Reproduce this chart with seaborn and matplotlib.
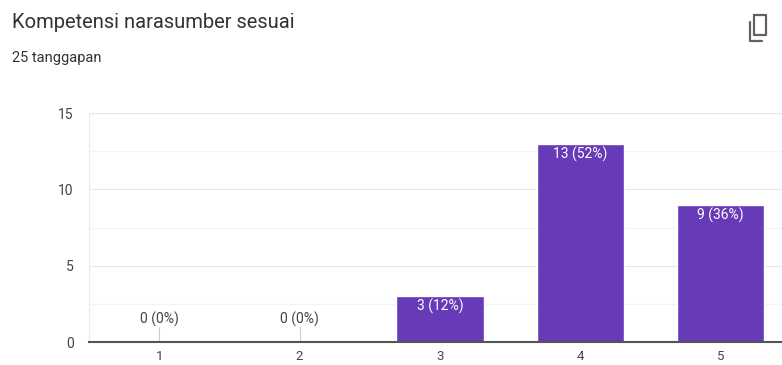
import matplotlib
matplotlib.use("Agg")
import matplotlib.pyplot as plt
import seaborn as sns
import pandas as pd
from matplotlib.lines import Line2D

# data
categories = ["1", "2", "3", "4", "5"]
counts = [0, 0, 3, 13, 9]
percents = [0, 0, 12, 52, 36]
title = "Kompetensi narasumber sesuai"
subtitle = "25 tanggapan"

df = pd.DataFrame({"skor": categories, "jumlah": counts})

sns.set_style("white")
plt.rcParams["font.family"] = ["Roboto", "DejaVu Sans"]

W, H = 782, 365
fig = plt.figure(figsize=(W / 100, H / 100), dpi=100)
ax = fig.add_axes([89 / W, 23 / H, (791 - 89) / W, (342 - 113) / H])

sns.barplot(data=df, x="skor", y="jumlah", order=categories, color="#673ab7",
            saturation=1, width=0.62, ax=ax, zorder=3)

ax.set_ylim(0, 15)
ax.set_xlim(-0.5, 4.5)
ax.set_yticks([0, 5, 10, 15])
ax.set_yticks([2.5, 7.5, 12.5], minor=True)
ax.grid(axis="y", which="major", color="#e6e6e6", linewidth=0.8, zorder=0)
ax.grid(axis="y", which="minor", color="#f3f3f3", linewidth=0.8, zorder=0)
ax.set_axisbelow(True)

for s in ["top", "right"]:
    ax.spines[s].set_visible(False)
ax.spines["left"].set_color("#ececec")
ax.spines["left"].set_linewidth(0.8)
ax.spines["bottom"].set_color("#555555")
ax.spines["bottom"].set_linewidth(1.5)
ax.spines["bottom"].set_zorder(5)

ax.tick_params(axis="y", which="both", length=0, pad=11, labelsize=10, labelcolor="#444444")
ax.tick_params(axis="x", length=0, pad=6, labelsize=9.5, labelcolor="#444444")
ax.set_xlabel("")
ax.set_ylabel("")

# value labels
for i, (c, p) in enumerate(zip(counts, percents)):
    txt = f"{c} ({p}%)"
    if c == 0:
        ax.vlines(i, 0, 1.0, color="#cccccc", linewidth=0.8, zorder=2)
        ax.annotate(txt, (i, 0), xytext=(0, 11), textcoords="offset points",
                    ha="center", va="bottom", fontsize=10, color="#444444")
    else:
        ax.annotate(txt, (i, c), xytext=(0, -2), textcoords="offset points",
                    ha="center", va="top", fontsize=10, color="white")

fig.text(12 / W, 1 - 22 / H, title, fontsize=14.5, color="#333333", va="center", ha="left")
fig.text(12 / W, 1 - 58 / H, subtitle, fontsize=10.5, color="#333333", va="center", ha="left")

# copy icon
def px(x, y):
    return x / W, 1 - y / H

icon = "#5f6368"
rect = [(754, 15), (766, 15), (766, 35), (754, 35), (754, 15)]
fig.add_artist(Line2D([px(*p)[0] for p in rect], [px(*p)[1] for p in rect],
                      color=icon, linewidth=1.6, solid_joinstyle="round"))
ell = [(750, 22), (750, 41), (762, 41)]
fig.add_artist(Line2D([px(*p)[0] for p in ell], [px(*p)[1] for p in ell],
                      color=icon, linewidth=1.6))

fig.savefig("out.png", dpi=100)
